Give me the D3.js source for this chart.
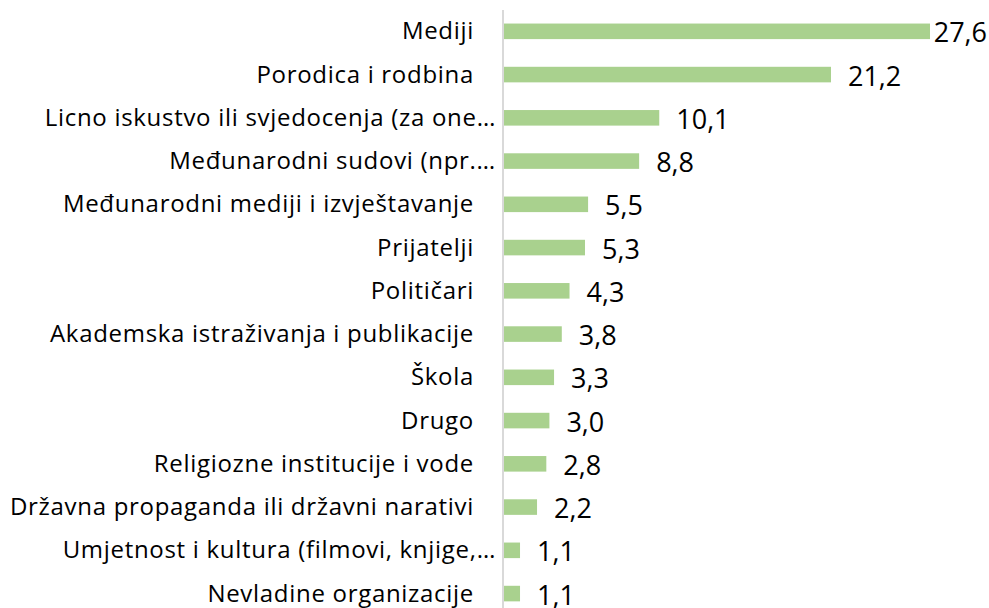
<!DOCTYPE html>
<html lang="bs">
<head>
<meta charset="UTF-8">
<title>Izvori informacija</title>
<style>
  body { margin: 0; background: #ffffff; }
  svg { display: block; }
  .cat { font-family: "Open Sans", Lato, sans-serif; font-size: 24px; letter-spacing: 0.7px; fill: #000; }
  .val { font-family: "Open Sans", Lato, sans-serif; font-size: 27px; fill: #000; }
</style>
</head>
<body>
<div id="chart"></div>
<script src="https://d3js.org/d3.v7.min.js"></script>
<script>
  // categories, top to bottom (ones ending in … were cut off in the original)
  const categories = [
    "Mediji",
    "Porodica i rodbina",
    "Licno iskustvo ili svjedocenja (za one…",
    "Međunarodni sudovi (npr.…",
    "Međunarodni mediji i izvještavanje",
    "Prijatelji",
    "Političari",
    "Akademska istraživanja i publikacije",
    "Škola",
    "Drugo",
    "Religiozne institucije i vode",
    "Državna propaganda ili državni narativi",
    "Umjetnost i kultura (filmovi, knjige,…",
    "Nevladine organizacije"
  ];
  const values = [27.6, 21.2, 10.1, 8.8, 5.5, 5.3, 4.3, 3.8, 3.3, 3.0, 2.8, 2.2, 1.1, 1.1];

  const width = 989, height = 608;
  const axisX = 503;

  const svg = d3.select("#chart").append("svg")
    .attr("width", width)
    .attr("height", height);

  const x = d3.scaleLinear().domain([0, 27.6]).range([axisX, 930]);
  const y = d3.scaleBand()
    .domain(categories)
    .range([9.7, 615.2])
    .paddingInner(0.64)
    .paddingOuter(0.32);

  const fmt = v => v.toFixed(1).replace(".", ",");

  // bars
  svg.selectAll("rect.bar")
    .data(values)
    .enter().append("rect")
    .attr("class", "bar")
    .attr("x", x(0))
    .attr("y", (d, i) => y(categories[i]))
    .attr("width", d => x(d) - x(0))
    .attr("height", y.bandwidth())
    .attr("fill", "#a9d18e");

  // vertical axis line
  svg.append("line")
    .attr("x1", axisX).attr("x2", axisX)
    .attr("y1", 10).attr("y2", height)
    .attr("stroke", "#d9d9d9")
    .attr("stroke-width", 2);

  // category labels (full labels had trailing spaces, so they sit further left)
  svg.selectAll("text.cat")
    .data(categories)
    .enter().append("text")
    .attr("class", "cat")
    .attr("text-anchor", "end")
    .attr("x", d => d.endsWith("…") ? 496 : 474)
    .attr("y", d => y(d) + y.bandwidth() / 2 + 8)
    .text(d => d);

  // value labels
  const vals = svg.selectAll("text.val")
    .data(values)
    .enter().append("text")
    .attr("class", "val")
    .attr("y", (d, i) => y(categories[i]) + y.bandwidth() / 2 + 11)
    .text(d => fmt(d));

  vals.each(function(d) {
    const w = this.getComputedTextLength();
    d3.select(this).attr("x", Math.min(x(d) + 17, width - w - 2));
  });
</script>
</body>
</html>
